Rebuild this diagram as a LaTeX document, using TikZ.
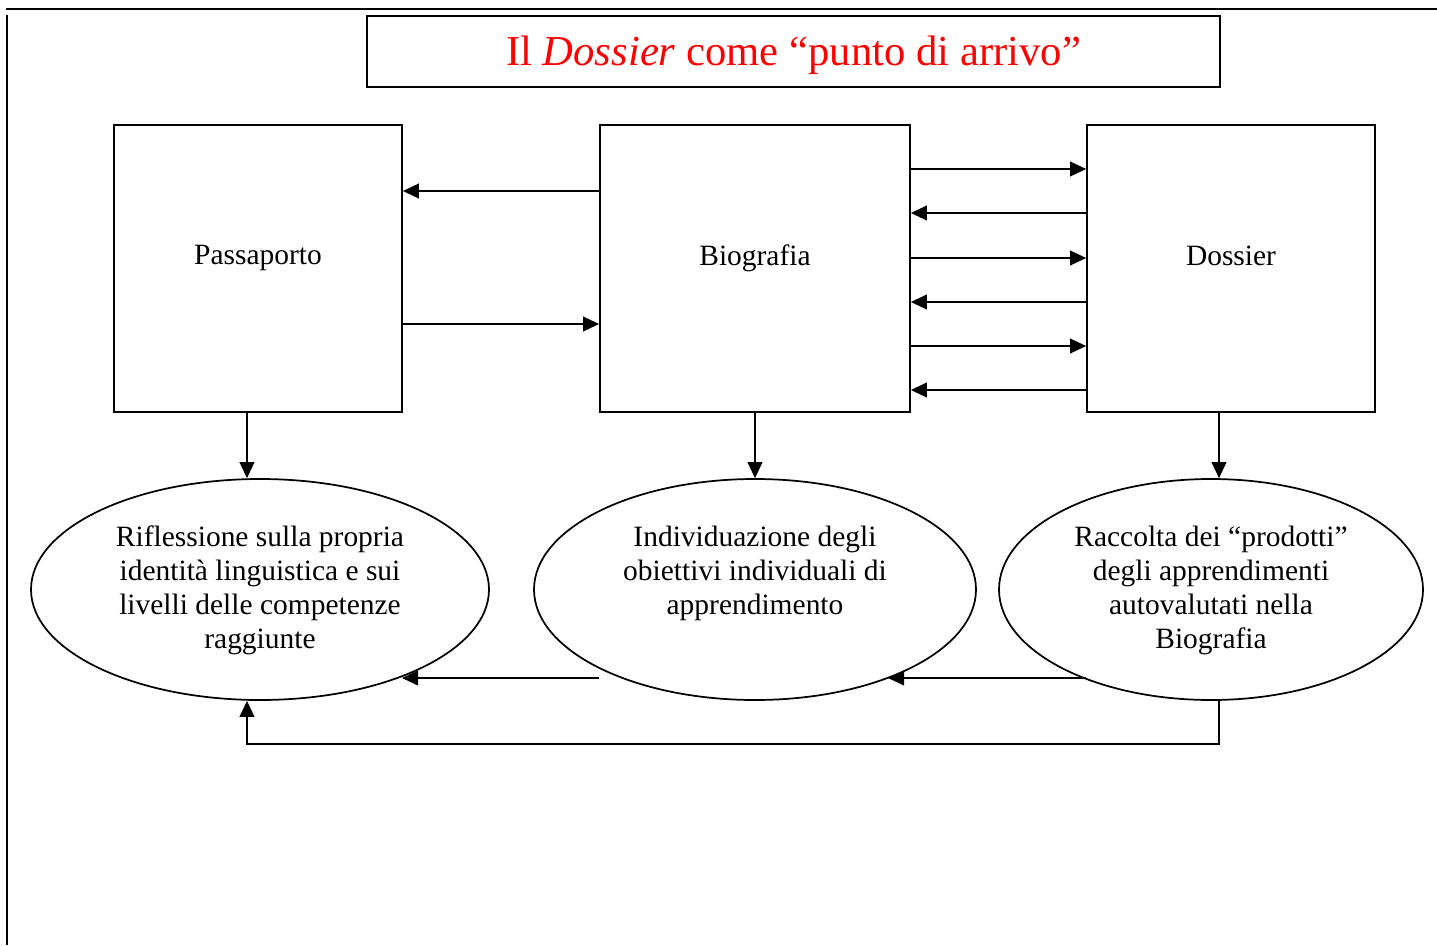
\documentclass[tikz,border=0pt]{standalone}
\usepackage{fontspec}
\setmainfont{Liberation Serif}
\usetikzlibrary{arrows.meta,shapes.geometric}
\begin{document}
\begin{tikzpicture}[x=0.75pt,y=-0.75pt,
  every node/.style={font=\fontsize{22.1pt}{25.5pt}\selectfont},
  boxnode/.style={draw,line width=1.3pt,inner sep=0pt,minimum height=215.25pt},
  ellnode/.style={draw,ellipse,line width=1.3pt,inner sep=0pt,minimum height=165.75pt},
  txt/.style={align=center,inner sep=0pt},
  arr/.style={line width=1.3pt,-{Triangle[length=12pt,width=11pt]}},
  ln/.style={line width=1.3pt}]
\useasboundingbox (0,0) rectangle (1437,945);
% frame lines
\coordinate (ftl) at (6,9);
\coordinate (ftr) at (1437,9);
\coordinate (fl1) at (7,15);
\coordinate (fl2) at (7,945);
\draw[line width=1.6pt] (ftl) -- (ftr);
\draw[line width=1.6pt] (fl1) -- (fl2);
% title
\node[draw,line width=1.3pt,minimum width=639.75pt,minimum height=53.25pt,inner sep=0pt,
  text=red,font=\fontsize{32pt}{36pt}\selectfont] (title) at (793.5,51.5) {};
\node[txt,text=red,font=\fontsize{32pt}{36pt}\selectfont] (titlet) at (793.5,55)
  {Il \textit{Dossier} come “punto di arrivo”};
% boxes
\node[boxnode,minimum width=216pt] (p) at (258,268.5) {};
\node[boxnode,minimum width=232.5pt] (b) at (755,268.5) {};
\node[boxnode,minimum width=216pt] (d) at (1231,268.5) {};
\node[txt] (pt) at (258,258) {Passaporto};
\node[txt] (bt) at (755,258) {Biografia};
\node[txt] (dt) at (1231,256) {Dossier};
% ellipses
\node[ellnode,minimum width=343.5pt] (e1) at (260,589.5) {};
\node[ellnode,minimum width=331.5pt] (e2) at (755,589.5) {};
\node[ellnode,minimum width=318pt] (e3) at (1211,589.5) {};
\node[txt] (e1t) at (260,590) {Riflessione sulla propria\\identità linguistica e sui\\livelli delle competenze\\raggiunte};
\node[txt] (e2t) at (755,573) {Individuazione degli\\obiettivi individuali di\\apprendimento};
\node[txt] (e3t) at (1211,590) {Raccolta dei “prodotti”\\degli apprendimenti\\autovalutati nella\\Biografia};
% y-levels
\coordinate (y191) at (0,191);
\coordinate (y324) at (0,324);
\foreach \yy in {169,213,258,302,346,390}{\coordinate (y\yy) at (0,\yy);}
\coordinate (y678) at (0,678);
\coordinate (x247) at (247,0);
\coordinate (x755) at (755,0);
\coordinate (x1219) at (1219,0);
\coordinate (x402) at (402,0);
\coordinate (x888) at (888,0);
% arrows between boxes
\draw[arr] (b.west |- y191) -- (p.east |- y191);
\draw[arr] (p.east |- y324) -- (b.west |- y324);
\draw[arr] (b.east |- y169) -- (d.west |- y169);
\draw[arr] (d.west |- y213) -- (b.east |- y213);
\draw[arr] (b.east |- y258) -- (d.west |- y258);
\draw[arr] (d.west |- y302) -- (b.east |- y302);
\draw[arr] (b.east |- y346) -- (d.west |- y346);
\draw[arr] (d.west |- y390) -- (b.east |- y390);
% down arrows
\draw[arr] (x247 |- p.south) -- (x247 |- e1.north);
\draw[arr] (x755 |- b.south) -- (x755 |- e2.north);
\draw[arr] (x1219 |- d.south) -- (x1219 |- e3.north);
% bottom arrows
\draw[arr] (b.west |- y678) -- (x402 |- y678);
\draw[arr] (d.west |- y678) -- (x888 |- y678);
% loop
\coordinate (loopr) at (1219,744);
\coordinate (loopl) at (247,744);
\draw[arr] (x1219 |- e3.south) -- (loopr) -- (loopl) -- (x247 |- e1.south);
\end{tikzpicture}
\end{document}
